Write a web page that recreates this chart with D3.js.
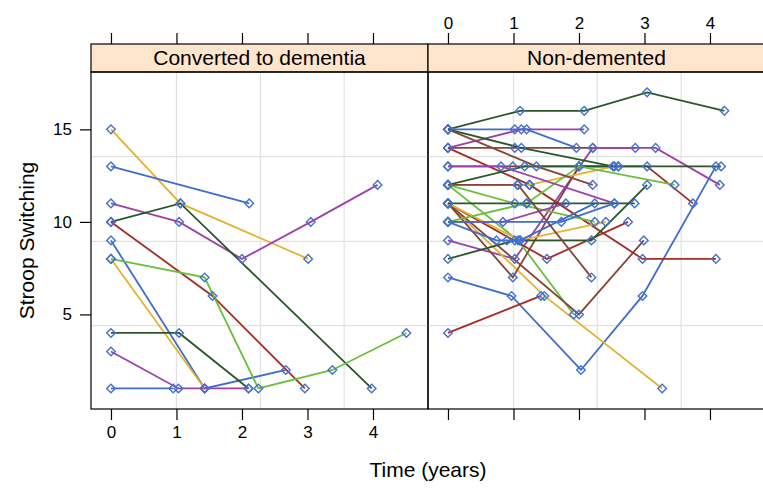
<!DOCTYPE html>
<html>
<head>
<meta charset="utf-8">
<script src="https://cdn.jsdelivr.net/npm/d3@7"></script>
<style>
  body { margin: 0; background: #fff; }
  text { font-family: "Liberation Sans", Arial, sans-serif; fill: #000; }
</style>
</head>
<body>
<svg id="chart" width="763" height="497"></svg>
<script>
// panels (categories)
var panelNames = ["Converted to dementia", "Non-demented"];

var xTicks = [0, 1, 2, 3, 4];
var yTicks = [5, 10, 15];
var gridX = [1.0, 2.28, 3.56];
var gridY = [4.4, 8.95, 13.53];

// converted to dementia: one entry per subject
var convertedTimes = [
    [0, 1.06, 3.01],
    [0, 2.11],
    [0, 1.04, 2.0, 3.05, 4.07],
    [0, 1.06, 3.98],
    [0, 1.55, 2.96],
    [0, 1.43, 2.67],
    [0, 1.43, 2.25, 3.38, 4.51],
    [0, 1.43],
    [0, 1.04, 2.1],
    [0, 1.03, 1.43, 2.1],
    [0, 0.95]
];
var convertedScores = [
    [15, 11, 8],
    [13, 11],
    [11, 10, 8, 10, 12],
    [10, 11, 1],
    [10, 6, 1],
    [9, 1, 2],
    [8, 7, 1, 2, 4],
    [8, 1],
    [4, 4, 1],
    [3, 1, 1, 1],
    [1, 1]
];
var convertedColor = [4, 0, 1, 2, 3, 0, 5, 4, 2, 1, 0];

// non-demented
var nonDemTimes = [
    [0, 1.1, 2.08, 3.04, 4.22],
    [0, 1.02, 1.2, 1.96],
    [0, 1.12, 2.08],
    [0, 1.02, 2.21, 2.86],
    [0, 1.02, 2.21, 3.17, 4.15],
    [0, 0.99, 2.0, 3.04, 3.74],
    [0, 1.12, 2.52, 4.17],
    [0, 0.97, 2.03, 2.97, 4.09],
    [0, 1.47, 3.27],
    [0, 1.42],
    [0, 1.07, 1.92],
    [0, 2.0, 2.99],
    [0, 0.99, 2.0, 2.6],
    [0, 1.25, 2.97, 4.09],
    [0, 1.51, 2.75],
    [0, 1.1, 2.41],
    [0, 1.06, 1.24, 2.54],
    [0, 1.02, 2.19, 3.04],
    [0, 1.17, 2.6],
    [0, 1.02, 2.24],
    [0, 1.2, 2.0, 3.46],
    [0, 0.81, 2.54],
    [0, 0.84, 1.8],
    [0, 0.74, 0.9, 1.1, 2.24],
    [0, 1.07, 2.19],
    [0, 1.2, 2.85],
    [0, 1.35, 2.21],
    [0, 1.73, 2.54]
];
var nonDemScores = [
    [15, 16, 16, 17, 16],
    [15, 15, 15, 14],
    [14, 15, 15],
    [14, 14, 14, 14],
    [9, 8, 14, 14, 12],
    [13, 13, 13, 13, 11],
    [15, 14, 13, 13],
    [7, 6, 2, 6, 13],
    [11, 6, 1],
    [4, 6],
    [12, 9, 5],
    [11, 5, 9],
    [11, 7, 13, 13],
    [14, 12, 8, 8],
    [11, 8, 10],
    [11, 9, 10],
    [12, 12, 12, 13],
    [8, 9, 9, 12],
    [12, 13, 13],
    [12, 11, 10],
    [10, 11, 13, 12],
    [13, 13, 11],
    [10, 10, 11],
    [10, 9, 9, 9, 11],
    [12, 12, 7],
    [11, 11, 11],
    [15, 13, 12],
    [10, 10, 11]
];
var nonDemColor = [2, 0, 1, 6, 1, 3, 2, 0, 4, 3, 5, 6, 6, 3, 3, 4, 4, 2, 2, 5, 5, 1, 1, 0, 6, 2, 6, 0];

// blue, magenta, darkgreen, red, orange, green, brown
var palette = ["#3c6dcf", "#9e3fad", "#2a572a", "#a52b26", "#e3b22e", "#69c03c", "#874536"];
var pointColor = "#4371cc";

function renderChart() {
    var svg = d3.select("#chart"),
        panelW = 337,
        top = 72, bottom = 409,
        stripH = 28,
        panelX = [91, 428];

    var x = d3.scaleLinear().domain([-0.305, 4.84]).range([0, panelW]);
    var y = d3.scaleLinear().domain([-0.11, 18.1]).range([bottom, top]);

    var times = [convertedTimes, nonDemTimes],
        scores = [convertedScores, nonDemScores],
        colors = [convertedColor, nonDemColor];

    var line = d3.line()
        .x(function (d) { return x(d[0]); })
        .y(function (d) { return y(d[1]); });

    panelNames.forEach(function (name, p) {
        var g = svg.append("g").attr("transform", "translate(" + panelX[p] + ",0)");

        // grid
        g.selectAll(".gx").data(gridX).enter().append("line")
            .attr("x1", function (d) { return x(d); }).attr("x2", function (d) { return x(d); })
            .attr("y1", top).attr("y2", bottom)
            .attr("stroke", "#e2e2e2").attr("stroke-width", 1.2);
        g.selectAll(".gy").data(gridY).enter().append("line")
            .attr("x1", 0).attr("x2", panelW)
            .attr("y1", function (d) { return y(d); }).attr("y2", function (d) { return y(d); })
            .attr("stroke", "#e2e2e2").attr("stroke-width", 1.2);

        // lines per subject
        times[p].forEach(function (t, i) {
            var pts = t.map(function (tt, j) { return [tt, scores[p][i][j]]; });
            g.append("path")
                .attr("d", line(pts))
                .attr("fill", "none")
                .attr("stroke", palette[colors[p][i]])
                .attr("stroke-width", 1.8);
        });

        // points on top
        times[p].forEach(function (t, i) {
            var pts = t.map(function (tt, j) { return [tt, scores[p][i][j]]; });
            g.selectAll(null).data(pts).enter().append("path")
                .attr("d", "M0,-4.3L4.3,0L0,4.3L-4.3,0Z")
                .attr("transform", function (d) { return "translate(" + x(d[0]) + "," + y(d[1]) + ")"; })
                .attr("fill", "none")
                .attr("stroke", pointColor)
                .attr("stroke-width", 1.4);
        });

        // strip
        g.append("rect")
            .attr("x", 0).attr("y", top - stripH)
            .attr("width", panelW).attr("height", stripH)
            .attr("fill", "#ffe5cc").attr("stroke", "#000").attr("stroke-width", 1.2);
        g.append("text")
            .attr("x", panelW / 2).attr("y", top - 7)
            .attr("text-anchor", "middle")
            .style("font-size", "21px")
            .text(name);

        // panel border
        g.append("rect")
            .attr("x", 0).attr("y", top)
            .attr("width", panelW).attr("height", bottom - top)
            .attr("fill", "none").attr("stroke", "#000").attr("stroke-width", 1.2);

        // bottom and top ticks
        var bx = d3.axisBottom(x).tickValues(xTicks).tickSize(11).tickPadding(6)
            .tickFormat(p == 0 ? d3.format("d") : function () { return ""; });
        var gb = g.append("g").attr("transform", "translate(0," + bottom + ")").call(bx);
        var tx = d3.axisTop(x).tickValues(xTicks).tickSize(11).tickPadding(4)
            .tickFormat(p == 1 ? d3.format("d") : function () { return ""; });
        var gt = g.append("g").attr("transform", "translate(0," + (top - stripH) + ")").call(tx);
        [gb, gt].forEach(function (a) {
            a.select(".domain").remove();
            a.selectAll("line").attr("stroke", "#000").attr("stroke-width", 1.2);
            a.selectAll("text").style("font-size", "17px")
                .style("font-family", "'Liberation Sans', Arial, sans-serif");
        });
    });

    // y axis on left panel
    var ya = svg.append("g").attr("transform", "translate(" + panelX[0] + ",0)")
        .call(d3.axisLeft(y).tickValues(yTicks).tickSize(11).tickPadding(8));
    ya.select(".domain").remove();
    ya.selectAll("line").attr("stroke", "#000").attr("stroke-width", 1.2);
    ya.selectAll("text").style("font-size", "17px")
        .style("font-family", "'Liberation Sans', Arial, sans-serif");

    // titles
    svg.append("text")
        .attr("x", (panelX[0] + panelX[1] + panelW) / 2).attr("y", 477)
        .attr("text-anchor", "middle")
        .style("font-size", "21px")
        .text("Time (years)");
    svg.append("text")
        .attr("transform", "translate(34," + (top + bottom) / 2 + ") rotate(-90)")
        .attr("text-anchor", "middle")
        .style("font-size", "21px")
        .text("Stroop Switching");
}

renderChart();
</script>
</body>
</html>
